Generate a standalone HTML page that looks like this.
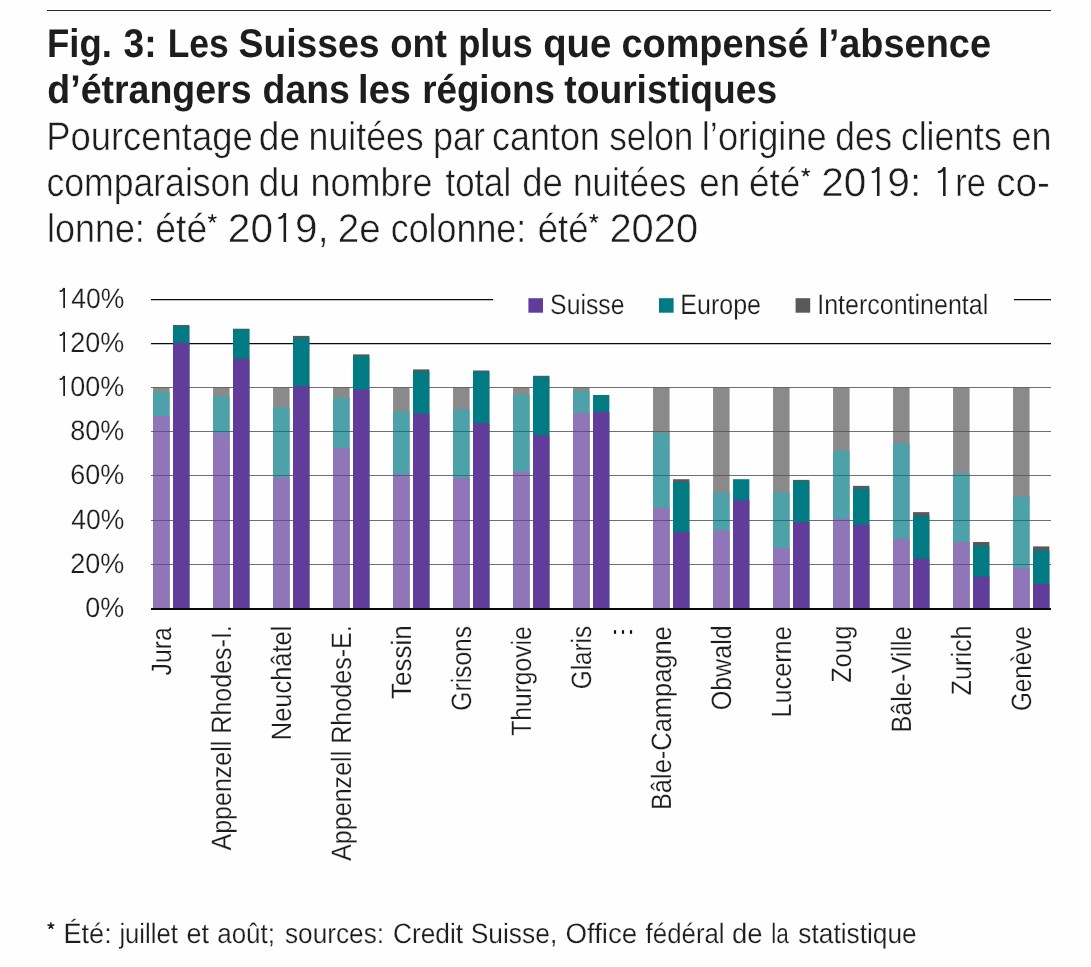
<!DOCTYPE html>
<html lang="fr"><head><meta charset="utf-8"><title>Fig. 3</title>
<style>
html,body{margin:0;padding:0;background:#fefefe;}
body{width:1091px;height:967px;position:relative;overflow:hidden;font-family:"Liberation Sans",sans-serif;color:#1d1d1b;}
.rule{position:absolute;left:47px;top:9.6px;width:1004px;height:1.5px;background:#2b2b2b;}
svg{position:absolute;left:0;top:0;will-change:transform;}
</style></head><body>
<div class="rule"></div>
<svg width="1091" height="967" viewBox="0 0 1091 967">
<line x1="151" x2="1051" y1="564.50" y2="564.50" stroke="#707070" stroke-width="1.1"/>
<line x1="151" x2="1051" y1="520.50" y2="520.50" stroke="#707070" stroke-width="1.1"/>
<line x1="151" x2="1051" y1="475.50" y2="475.50" stroke="#707070" stroke-width="1.1"/>
<line x1="151" x2="1051" y1="431.50" y2="431.50" stroke="#707070" stroke-width="1.1"/>
<line x1="151" x2="1051" y1="387.50" y2="387.50" stroke="#707070" stroke-width="1.1"/>
<line x1="151" x2="1051" y1="343.50" y2="343.50" stroke="#0a0a0a" stroke-width="1.25"/>
<line x1="151" x2="493" y1="299.50" y2="299.50" stroke="#0a0a0a" stroke-width="1.25"/>
<line x1="1014" x2="1051" y1="299.50" y2="299.50" stroke="#0a0a0a" stroke-width="1.25"/>
<g opacity="0.7">
<rect x="153.05" y="387.50" width="16.50" height="221.00" fill="#595959"/>
<rect x="153.05" y="391.48" width="16.50" height="217.02" fill="#007b83"/>
<rect x="153.05" y="416.01" width="16.50" height="192.49" fill="#623c9a"/>
</g>
<rect x="173.05" y="324.96" width="16.30" height="283.54" fill="#595959"/>
<rect x="173.05" y="326.06" width="16.30" height="282.44" fill="#007b83"/>
<rect x="173.05" y="342.86" width="16.30" height="265.64" fill="#623c9a"/>
<g opacity="0.7">
<rect x="213.05" y="387.50" width="16.50" height="221.00" fill="#595959"/>
<rect x="213.05" y="396.12" width="16.50" height="212.38" fill="#007b83"/>
<rect x="213.05" y="432.58" width="16.50" height="175.92" fill="#623c9a"/>
</g>
<rect x="233.05" y="328.71" width="16.30" height="279.79" fill="#595959"/>
<rect x="233.05" y="329.38" width="16.30" height="279.12" fill="#007b83"/>
<rect x="233.05" y="358.77" width="16.30" height="249.73" fill="#623c9a"/>
<g opacity="0.7">
<rect x="273.05" y="387.50" width="16.50" height="221.00" fill="#595959"/>
<rect x="273.05" y="407.39" width="16.50" height="201.11" fill="#007b83"/>
<rect x="273.05" y="477.23" width="16.50" height="131.27" fill="#623c9a"/>
</g>
<rect x="293.05" y="335.90" width="16.30" height="272.60" fill="#595959"/>
<rect x="293.05" y="338.00" width="16.30" height="270.50" fill="#007b83"/>
<rect x="293.05" y="386.17" width="16.30" height="222.33" fill="#623c9a"/>
<g opacity="0.7">
<rect x="333.05" y="387.50" width="16.50" height="221.00" fill="#595959"/>
<rect x="333.05" y="397.67" width="16.50" height="210.83" fill="#007b83"/>
<rect x="333.05" y="448.05" width="16.50" height="160.45" fill="#623c9a"/>
</g>
<rect x="353.05" y="354.35" width="16.30" height="254.15" fill="#595959"/>
<rect x="353.05" y="356.12" width="16.30" height="252.38" fill="#007b83"/>
<rect x="353.05" y="389.71" width="16.30" height="218.79" fill="#623c9a"/>
<g opacity="0.7">
<rect x="393.05" y="387.50" width="16.50" height="221.00" fill="#595959"/>
<rect x="393.05" y="411.59" width="16.50" height="196.91" fill="#007b83"/>
<rect x="393.05" y="474.57" width="16.50" height="133.93" fill="#623c9a"/>
</g>
<rect x="413.05" y="369.38" width="16.30" height="239.12" fill="#595959"/>
<rect x="413.05" y="371.59" width="16.30" height="236.91" fill="#007b83"/>
<rect x="413.05" y="413.58" width="16.30" height="194.92" fill="#623c9a"/>
<g opacity="0.7">
<rect x="453.05" y="387.50" width="16.50" height="221.00" fill="#595959"/>
<rect x="453.05" y="409.38" width="16.50" height="199.12" fill="#007b83"/>
<rect x="453.05" y="477.89" width="16.50" height="130.61" fill="#623c9a"/>
</g>
<rect x="473.05" y="370.48" width="16.30" height="238.02" fill="#595959"/>
<rect x="473.05" y="371.59" width="16.30" height="236.91" fill="#007b83"/>
<rect x="473.05" y="423.30" width="16.30" height="185.20" fill="#623c9a"/>
<g opacity="0.7">
<rect x="513.05" y="387.50" width="16.50" height="221.00" fill="#595959"/>
<rect x="513.05" y="394.79" width="16.50" height="213.71" fill="#007b83"/>
<rect x="513.05" y="471.48" width="16.50" height="137.02" fill="#623c9a"/>
</g>
<rect x="533.05" y="375.79" width="16.30" height="232.71" fill="#595959"/>
<rect x="533.05" y="376.89" width="16.30" height="231.61" fill="#007b83"/>
<rect x="533.05" y="435.24" width="16.30" height="173.26" fill="#623c9a"/>
<g opacity="0.7">
<rect x="573.05" y="387.50" width="16.50" height="221.00" fill="#595959"/>
<rect x="573.05" y="391.04" width="16.50" height="217.46" fill="#007b83"/>
<rect x="573.05" y="412.91" width="16.50" height="195.59" fill="#623c9a"/>
</g>
<rect x="593.05" y="395.01" width="16.30" height="213.49" fill="#007b83"/>
<rect x="593.05" y="412.03" width="16.30" height="196.47" fill="#623c9a"/>
<g opacity="0.7">
<rect x="653.05" y="387.50" width="16.50" height="221.00" fill="#595959"/>
<rect x="653.05" y="432.81" width="16.50" height="175.69" fill="#007b83"/>
<rect x="653.05" y="507.94" width="16.50" height="100.56" fill="#623c9a"/>
</g>
<rect x="673.05" y="479.22" width="16.30" height="129.28" fill="#595959"/>
<rect x="673.05" y="482.09" width="16.30" height="126.41" fill="#007b83"/>
<rect x="673.05" y="532.03" width="16.30" height="76.47" fill="#623c9a"/>
<g opacity="0.7">
<rect x="713.05" y="387.50" width="16.50" height="221.00" fill="#595959"/>
<rect x="713.05" y="492.48" width="16.50" height="116.02" fill="#007b83"/>
<rect x="713.05" y="530.49" width="16.50" height="78.01" fill="#623c9a"/>
</g>
<rect x="733.05" y="479.22" width="16.30" height="129.28" fill="#007b83"/>
<rect x="733.05" y="499.99" width="16.30" height="108.51" fill="#623c9a"/>
<g opacity="0.7">
<rect x="773.05" y="387.50" width="16.50" height="221.00" fill="#595959"/>
<rect x="773.05" y="492.48" width="16.50" height="116.02" fill="#007b83"/>
<rect x="773.05" y="547.95" width="16.50" height="60.55" fill="#623c9a"/>
</g>
<rect x="793.05" y="479.88" width="16.30" height="128.62" fill="#595959"/>
<rect x="793.05" y="481.20" width="16.30" height="127.30" fill="#007b83"/>
<rect x="793.05" y="522.09" width="16.30" height="86.41" fill="#623c9a"/>
<g opacity="0.7">
<rect x="833.05" y="387.50" width="16.50" height="221.00" fill="#595959"/>
<rect x="833.05" y="450.93" width="16.50" height="157.57" fill="#007b83"/>
<rect x="833.05" y="518.77" width="16.50" height="89.73" fill="#623c9a"/>
</g>
<rect x="853.05" y="485.85" width="16.30" height="122.65" fill="#595959"/>
<rect x="853.05" y="488.72" width="16.30" height="119.78" fill="#007b83"/>
<rect x="853.05" y="524.74" width="16.30" height="83.76" fill="#623c9a"/>
<g opacity="0.7">
<rect x="893.05" y="387.50" width="16.50" height="221.00" fill="#595959"/>
<rect x="893.05" y="443.63" width="16.50" height="164.87" fill="#007b83"/>
<rect x="893.05" y="539.11" width="16.50" height="69.39" fill="#623c9a"/>
</g>
<rect x="913.05" y="512.14" width="16.30" height="96.36" fill="#595959"/>
<rect x="913.05" y="515.90" width="16.30" height="92.60" fill="#007b83"/>
<rect x="913.05" y="558.77" width="16.30" height="49.73" fill="#623c9a"/>
<g opacity="0.7">
<rect x="953.05" y="387.50" width="16.50" height="221.00" fill="#595959"/>
<rect x="953.05" y="473.47" width="16.50" height="135.03" fill="#007b83"/>
<rect x="953.05" y="541.98" width="16.50" height="66.52" fill="#623c9a"/>
</g>
<rect x="973.05" y="541.98" width="16.30" height="66.52" fill="#595959"/>
<rect x="973.05" y="545.74" width="16.30" height="62.76" fill="#007b83"/>
<rect x="973.05" y="576.68" width="16.30" height="31.82" fill="#623c9a"/>
<g opacity="0.7">
<rect x="1013.05" y="387.50" width="16.50" height="221.00" fill="#595959"/>
<rect x="1013.05" y="496.67" width="16.50" height="111.83" fill="#007b83"/>
<rect x="1013.05" y="568.06" width="16.50" height="40.44" fill="#623c9a"/>
</g>
<rect x="1033.05" y="546.40" width="16.30" height="62.10" fill="#595959"/>
<rect x="1033.05" y="550.60" width="16.30" height="57.90" fill="#007b83"/>
<rect x="1033.05" y="583.97" width="16.30" height="24.53" fill="#623c9a"/>
<line x1="151" x2="1051" y1="608.95" y2="608.95" stroke="#0a0a0a" stroke-width="2.0"/>
<rect x="528.40" y="298.20" width="14.60" height="14.50" fill="#623c9a"/>
<rect x="659.00" y="298.20" width="14.60" height="14.50" fill="#007b83"/>
<rect x="795.60" y="298.20" width="14.60" height="14.50" fill="#595959"/>
<rect x="613.90" y="630.20" width="2.20" height="3.60" fill="#111"/>
<rect x="621.90" y="630.20" width="2.20" height="3.60" fill="#111"/>
<rect x="629.90" y="630.20" width="2.20" height="3.60" fill="#111"/>
<g font-family="Liberation Sans, sans-serif" fill="#1d1d1b" text-rendering="geometricPrecision">
<text font-size="40" font-weight="bold" x="47.08" y="56.70" textLength="64.85" lengthAdjust="spacingAndGlyphs">Fig.</text>
<text font-size="40" font-weight="bold" x="123.60" y="56.70" textLength="33.09" lengthAdjust="spacingAndGlyphs">3:</text>
<text font-size="40" font-weight="bold" x="167.63" y="56.70" textLength="60.97" lengthAdjust="spacingAndGlyphs">Les</text>
<text font-size="40" font-weight="bold" x="238.57" y="56.70" textLength="140.99" lengthAdjust="spacingAndGlyphs">Suisses</text>
<text font-size="40" font-weight="bold" x="390.19" y="56.70" textLength="56.70" lengthAdjust="spacingAndGlyphs">ont</text>
<text font-size="40" font-weight="bold" x="458.19" y="56.70" textLength="74.54" lengthAdjust="spacingAndGlyphs">plus</text>
<text font-size="40" font-weight="bold" x="543.24" y="56.70" textLength="68.05" lengthAdjust="spacingAndGlyphs">que</text>
<text font-size="40" font-weight="bold" x="621.45" y="56.70" textLength="187.43" lengthAdjust="spacingAndGlyphs">compensé</text>
<text font-size="40" font-weight="bold" x="818.20" y="56.70" textLength="172.78" lengthAdjust="spacingAndGlyphs">l’absence</text>
<text font-size="40" font-weight="bold" x="47.36" y="103.40" textLength="204.21" lengthAdjust="spacingAndGlyphs">d’étrangers</text>
<text font-size="40" font-weight="bold" x="262.56" y="103.40" textLength="87.30" lengthAdjust="spacingAndGlyphs">dans</text>
<text font-size="40" font-weight="bold" x="358.11" y="103.40" textLength="52.68" lengthAdjust="spacingAndGlyphs">les</text>
<text font-size="40" font-weight="bold" x="422.16" y="103.40" textLength="132.78" lengthAdjust="spacingAndGlyphs">régions</text>
<text font-size="40" font-weight="bold" x="564.30" y="103.40" textLength="212.86" lengthAdjust="spacingAndGlyphs">touristiques</text>
<text font-size="40" stroke="#fefefe" stroke-width="0.5" x="46.17" y="150.00" textLength="206.57" lengthAdjust="spacingAndGlyphs">Pourcentage</text>
<text font-size="40" stroke="#fefefe" stroke-width="0.5" x="258.87" y="150.00" textLength="41.28" lengthAdjust="spacingAndGlyphs">de</text>
<text font-size="40" stroke="#fefefe" stroke-width="0.5" x="308.62" y="150.00" textLength="115.08" lengthAdjust="spacingAndGlyphs">nuitées</text>
<text font-size="40" stroke="#fefefe" stroke-width="0.5" x="433.11" y="150.00" textLength="51.88" lengthAdjust="spacingAndGlyphs">par</text>
<text font-size="40" stroke="#fefefe" stroke-width="0.5" x="492.10" y="150.00" textLength="107.71" lengthAdjust="spacingAndGlyphs">canton</text>
<text font-size="40" stroke="#fefefe" stroke-width="0.5" x="609.32" y="150.00" textLength="83.95" lengthAdjust="spacingAndGlyphs">selon</text>
<text font-size="40" stroke="#fefefe" stroke-width="0.5" x="701.79" y="150.00" textLength="124.94" lengthAdjust="spacingAndGlyphs">l’origine</text>
<text font-size="40" stroke="#fefefe" stroke-width="0.5" x="835.32" y="150.00" textLength="56.76" lengthAdjust="spacingAndGlyphs">des</text>
<text font-size="40" stroke="#fefefe" stroke-width="0.5" x="900.91" y="150.00" textLength="100.88" lengthAdjust="spacingAndGlyphs">clients</text>
<text font-size="40" stroke="#fefefe" stroke-width="0.5" x="1011.40" y="150.00" textLength="40.02" lengthAdjust="spacingAndGlyphs">en</text>
<text font-size="40" stroke="#fefefe" stroke-width="0.5" x="46.41" y="195.90" textLength="203.79" lengthAdjust="spacingAndGlyphs">comparaison</text>
<text font-size="40" stroke="#fefefe" stroke-width="0.5" x="258.78" y="195.90" textLength="41.10" lengthAdjust="spacingAndGlyphs">du</text>
<text font-size="40" stroke="#fefefe" stroke-width="0.5" x="310.40" y="195.90" textLength="122.02" lengthAdjust="spacingAndGlyphs">nombre</text>
<text font-size="40" stroke="#fefefe" stroke-width="0.5" x="445.50" y="195.90" textLength="65.64" lengthAdjust="spacingAndGlyphs">total</text>
<text font-size="40" stroke="#fefefe" stroke-width="0.5" x="522.19" y="195.90" textLength="40.65" lengthAdjust="spacingAndGlyphs">de</text>
<text font-size="40" stroke="#fefefe" stroke-width="0.5" x="572.94" y="195.90" textLength="113.34" lengthAdjust="spacingAndGlyphs">nuitées</text>
<text font-size="40" stroke="#fefefe" stroke-width="0.5" x="699.28" y="195.90" textLength="40.99" lengthAdjust="spacingAndGlyphs">en</text>
<text font-size="40" stroke="#fefefe" stroke-width="0.5" x="748.98" y="195.90" textLength="51.38" lengthAdjust="spacingAndGlyphs">été</text>
<text font-size="40" stroke="#fefefe" stroke-width="0.5" x="821.27" y="195.90" textLength="45.09" lengthAdjust="spacingAndGlyphs">20</text>
<text font-size="40" stroke="#fefefe" stroke-width="0.5" x="887.38" y="195.90" textLength="33.99" lengthAdjust="spacingAndGlyphs">9:</text>
<text font-size="40" stroke="#fefefe" stroke-width="0.5" x="955.18" y="195.90" textLength="30.59" lengthAdjust="spacingAndGlyphs">re</text>
<text font-size="40" stroke="#fefefe" stroke-width="0.5" x="996.13" y="195.90" textLength="53.74" lengthAdjust="spacingAndGlyphs">co-</text>
<text font-size="40" stroke="#fefefe" stroke-width="0.5" x="47.11" y="242.00" textLength="97.68" lengthAdjust="spacingAndGlyphs">lonne:</text>
<text font-size="40" stroke="#fefefe" stroke-width="0.5" x="155.27" y="242.00" textLength="51.90" lengthAdjust="spacingAndGlyphs">été</text>
<text font-size="40" stroke="#fefefe" stroke-width="0.5" x="227.87" y="242.00" textLength="45.09" lengthAdjust="spacingAndGlyphs">20</text>
<text font-size="40" stroke="#fefefe" stroke-width="0.5" x="294.99" y="242.00" textLength="33.76" lengthAdjust="spacingAndGlyphs">9,</text>
<text font-size="40" stroke="#fefefe" stroke-width="0.5" x="337.87" y="242.00" textLength="42.93" lengthAdjust="spacingAndGlyphs">2e</text>
<text font-size="40" stroke="#fefefe" stroke-width="0.5" x="390.80" y="242.00" textLength="135.38" lengthAdjust="spacingAndGlyphs">colonne:</text>
<text font-size="40" stroke="#fefefe" stroke-width="0.5" x="537.69" y="242.00" textLength="50.85" lengthAdjust="spacingAndGlyphs">été</text>
<text font-size="40" stroke="#fefefe" stroke-width="0.5" x="609.41" y="242.00" textLength="88.74" lengthAdjust="spacingAndGlyphs">2020</text>
<text font-size="28" stroke="#fefefe" stroke-width="0.2" x="63.46" y="943.00" textLength="48.26" lengthAdjust="spacingAndGlyphs">Été:</text>
<text font-size="28" stroke="#fefefe" stroke-width="0.2" x="119.41" y="943.00" textLength="58.38" lengthAdjust="spacingAndGlyphs">juillet</text>
<text font-size="28" stroke="#fefefe" stroke-width="0.2" x="186.53" y="943.00" textLength="22.55" lengthAdjust="spacingAndGlyphs">et</text>
<text font-size="28" stroke="#fefefe" stroke-width="0.2" x="217.27" y="943.00" textLength="57.67" lengthAdjust="spacingAndGlyphs">août;</text>
<text font-size="28" stroke="#fefefe" stroke-width="0.2" x="285.00" y="943.00" textLength="99.07" lengthAdjust="spacingAndGlyphs">sources:</text>
<text font-size="28" stroke="#fefefe" stroke-width="0.2" x="392.96" y="943.00" textLength="70.13" lengthAdjust="spacingAndGlyphs">Credit</text>
<text font-size="28" stroke="#fefefe" stroke-width="0.2" x="470.66" y="943.00" textLength="86.62" lengthAdjust="spacingAndGlyphs">Suisse,</text>
<text font-size="28" stroke="#fefefe" stroke-width="0.2" x="565.41" y="943.00" textLength="71.86" lengthAdjust="spacingAndGlyphs">Office</text>
<text font-size="28" stroke="#fefefe" stroke-width="0.2" x="645.60" y="943.00" textLength="79.03" lengthAdjust="spacingAndGlyphs">fédéral</text>
<text font-size="28" stroke="#fefefe" stroke-width="0.2" x="732.02" y="943.00" textLength="30.54" lengthAdjust="spacingAndGlyphs">de</text>
<text font-size="28" stroke="#fefefe" stroke-width="0.2" x="771.19" y="943.00" textLength="17.56" lengthAdjust="spacingAndGlyphs">la</text>
<text font-size="28" stroke="#fefefe" stroke-width="0.2" x="798.30" y="943.00" textLength="118.44" lengthAdjust="spacingAndGlyphs">statistique</text>
<text font-size="28" stroke="#fefefe" stroke-width="0.2" x="550.11" y="314.00" textLength="74.39" lengthAdjust="spacingAndGlyphs">Suisse</text>
<text font-size="28" stroke="#fefefe" stroke-width="0.2" x="680.31" y="314.00" textLength="80.70" lengthAdjust="spacingAndGlyphs">Europe</text>
<text font-size="28" stroke="#fefefe" stroke-width="0.2" x="817.21" y="314.00" textLength="171.08" lengthAdjust="spacingAndGlyphs">Intercontinental</text>
<text font-size="28" stroke="#fefefe" stroke-width="0.2" x="85.34" y="617.20" textLength="38.92" lengthAdjust="spacingAndGlyphs">0%</text>
<text font-size="28" stroke="#fefefe" stroke-width="0.2" x="70.24" y="573.10" textLength="54.03" lengthAdjust="spacingAndGlyphs">20%</text>
<text font-size="28" stroke="#fefefe" stroke-width="0.2" x="71.20" y="529.10" textLength="53.05" lengthAdjust="spacingAndGlyphs">40%</text>
<text font-size="28" stroke="#fefefe" stroke-width="0.2" x="70.24" y="484.10" textLength="54.03" lengthAdjust="spacingAndGlyphs">60%</text>
<text font-size="28" stroke="#fefefe" stroke-width="0.2" x="70.24" y="440.10" textLength="54.03" lengthAdjust="spacingAndGlyphs">80%</text>
<text font-size="28" stroke="#fefefe" stroke-width="0.2" x="70.24" y="396.10" textLength="54.03" lengthAdjust="spacingAndGlyphs">00%</text>
<text font-size="28" stroke="#fefefe" stroke-width="0.2" x="70.24" y="352.10" textLength="54.03" lengthAdjust="spacingAndGlyphs">20%</text>
<text font-size="28" stroke="#fefefe" stroke-width="0.2" x="71.20" y="308.10" textLength="53.05" lengthAdjust="spacingAndGlyphs">40%</text>
<text font-size="28" stroke="#fefefe" stroke-width="0.2" transform="translate(171.30,626.80) rotate(-90)" x="-48.70" y="0" textLength="48.32" lengthAdjust="spacingAndGlyphs">Jura</text>
<text font-size="28" stroke="#fefefe" stroke-width="0.2" transform="translate(231.30,626.80) rotate(-90)" x="-223.70" y="0" textLength="225.29" lengthAdjust="spacingAndGlyphs">Appenzell Rhodes-I.</text>
<text font-size="28" stroke="#fefefe" stroke-width="0.2" transform="translate(291.30,626.80) rotate(-90)" x="-113.42" y="0" textLength="114.53" lengthAdjust="spacingAndGlyphs">Neuchâtel</text>
<text font-size="28" stroke="#fefefe" stroke-width="0.2" transform="translate(351.30,626.80) rotate(-90)" x="-234.20" y="0" textLength="235.79" lengthAdjust="spacingAndGlyphs">Appenzell Rhodes-E.</text>
<text font-size="28" stroke="#fefefe" stroke-width="0.2" transform="translate(411.30,626.80) rotate(-90)" x="-72.30" y="0" textLength="73.76" lengthAdjust="spacingAndGlyphs">Tessin</text>
<text font-size="28" stroke="#fefefe" stroke-width="0.2" transform="translate(471.30,626.80) rotate(-90)" x="-83.88" y="0" textLength="84.76" lengthAdjust="spacingAndGlyphs">Grisons</text>
<text font-size="28" stroke="#fefefe" stroke-width="0.2" transform="translate(531.30,626.80) rotate(-90)" x="-109.00" y="0" textLength="109.50" lengthAdjust="spacingAndGlyphs">Thurgovie</text>
<text font-size="28" stroke="#fefefe" stroke-width="0.2" transform="translate(591.30,626.80) rotate(-90)" x="-62.36" y="0" textLength="63.23" lengthAdjust="spacingAndGlyphs">Glaris</text>
<text font-size="28" stroke="#fefefe" stroke-width="0.2" transform="translate(671.30,626.80) rotate(-90)" x="-183.32" y="0" textLength="183.84" lengthAdjust="spacingAndGlyphs">Bâle-Campagne</text>
<text font-size="28" stroke="#fefefe" stroke-width="0.2" transform="translate(731.30,626.80) rotate(-90)" x="-83.49" y="0" textLength="84.90" lengthAdjust="spacingAndGlyphs">Obwald</text>
<text font-size="28" stroke="#fefefe" stroke-width="0.2" transform="translate(791.30,626.80) rotate(-90)" x="-90.81" y="0" textLength="91.32" lengthAdjust="spacingAndGlyphs">Lucerne</text>
<text font-size="28" stroke="#fefefe" stroke-width="0.2" transform="translate(851.30,626.80) rotate(-90)" x="-56.00" y="0" textLength="57.41" lengthAdjust="spacingAndGlyphs">Zoug</text>
<text font-size="28" stroke="#fefefe" stroke-width="0.2" transform="translate(911.30,626.80) rotate(-90)" x="-105.81" y="0" textLength="106.32" lengthAdjust="spacingAndGlyphs">Bâle-Ville</text>
<text font-size="28" stroke="#fefefe" stroke-width="0.2" transform="translate(971.30,626.80) rotate(-90)" x="-68.60" y="0" textLength="70.02" lengthAdjust="spacingAndGlyphs">Zurich</text>
<text font-size="28" stroke="#fefefe" stroke-width="0.2" transform="translate(1031.30,626.80) rotate(-90)" x="-84.26" y="0" textLength="84.76" lengthAdjust="spacingAndGlyphs">Genève</text>
</g>
<rect x="876.96" y="167.10" width="2.54" height="28.90" fill="#1d1d1b"/>
<path d="M871.75 172.04Q876.09 172.04 878.14 167.45" fill="none" stroke="#1d1d1b" stroke-width="2.14"/>
<rect x="943.06" y="167.10" width="2.54" height="28.90" fill="#1d1d1b"/>
<path d="M937.85 172.04Q942.19 172.04 944.24 167.45" fill="none" stroke="#1d1d1b" stroke-width="2.14"/>
<rect x="283.56" y="213.10" width="2.54" height="28.90" fill="#1d1d1b"/>
<path d="M278.35 218.04Q282.69 218.04 284.74 213.45" fill="none" stroke="#1d1d1b" stroke-width="2.14"/>
<rect x="63.23" y="375.90" width="1.77" height="20.10" fill="#1d1d1b"/>
<path d="M59.61 379.34Q62.63 379.34 64.06 376.14" fill="none" stroke="#1d1d1b" stroke-width="1.49"/>
<rect x="63.23" y="331.90" width="1.77" height="20.10" fill="#1d1d1b"/>
<path d="M59.61 335.34Q62.63 335.34 64.06 332.14" fill="none" stroke="#1d1d1b" stroke-width="1.49"/>
<rect x="63.23" y="287.90" width="1.77" height="20.10" fill="#1d1d1b"/>
<path d="M59.61 291.34Q62.63 291.34 64.06 288.14" fill="none" stroke="#1d1d1b" stroke-width="1.49"/>
<path d="M805.75 172.50L805.75 168.13M805.75 172.50L809.91 171.15M805.75 172.50L808.32 176.04M805.75 172.50L803.18 176.04M805.75 172.50L801.59 171.15" stroke="#1d1d1b" stroke-width="1.6" fill="none"/>
<path d="M212.30 218.60L212.30 214.18M212.30 218.60L216.50 217.24M212.30 218.60L214.90 222.17M212.30 218.60L209.70 222.17M212.30 218.60L208.10 217.24" stroke="#1d1d1b" stroke-width="1.6" fill="none"/>
<path d="M593.85 218.60L593.85 214.14M593.85 218.60L598.09 217.22M593.85 218.60L596.47 222.21M593.85 218.60L591.23 222.21M593.85 218.60L589.61 217.22" stroke="#1d1d1b" stroke-width="1.6" fill="none"/>
<path d="M50.90 925.80L50.90 922.20M50.90 925.80L54.32 924.69M50.90 925.80L53.02 928.71M50.90 925.80L48.78 928.71M50.90 925.80L47.48 924.69" stroke="#1d1d1b" stroke-width="1.5" fill="none"/>
</svg>
</body></html>
